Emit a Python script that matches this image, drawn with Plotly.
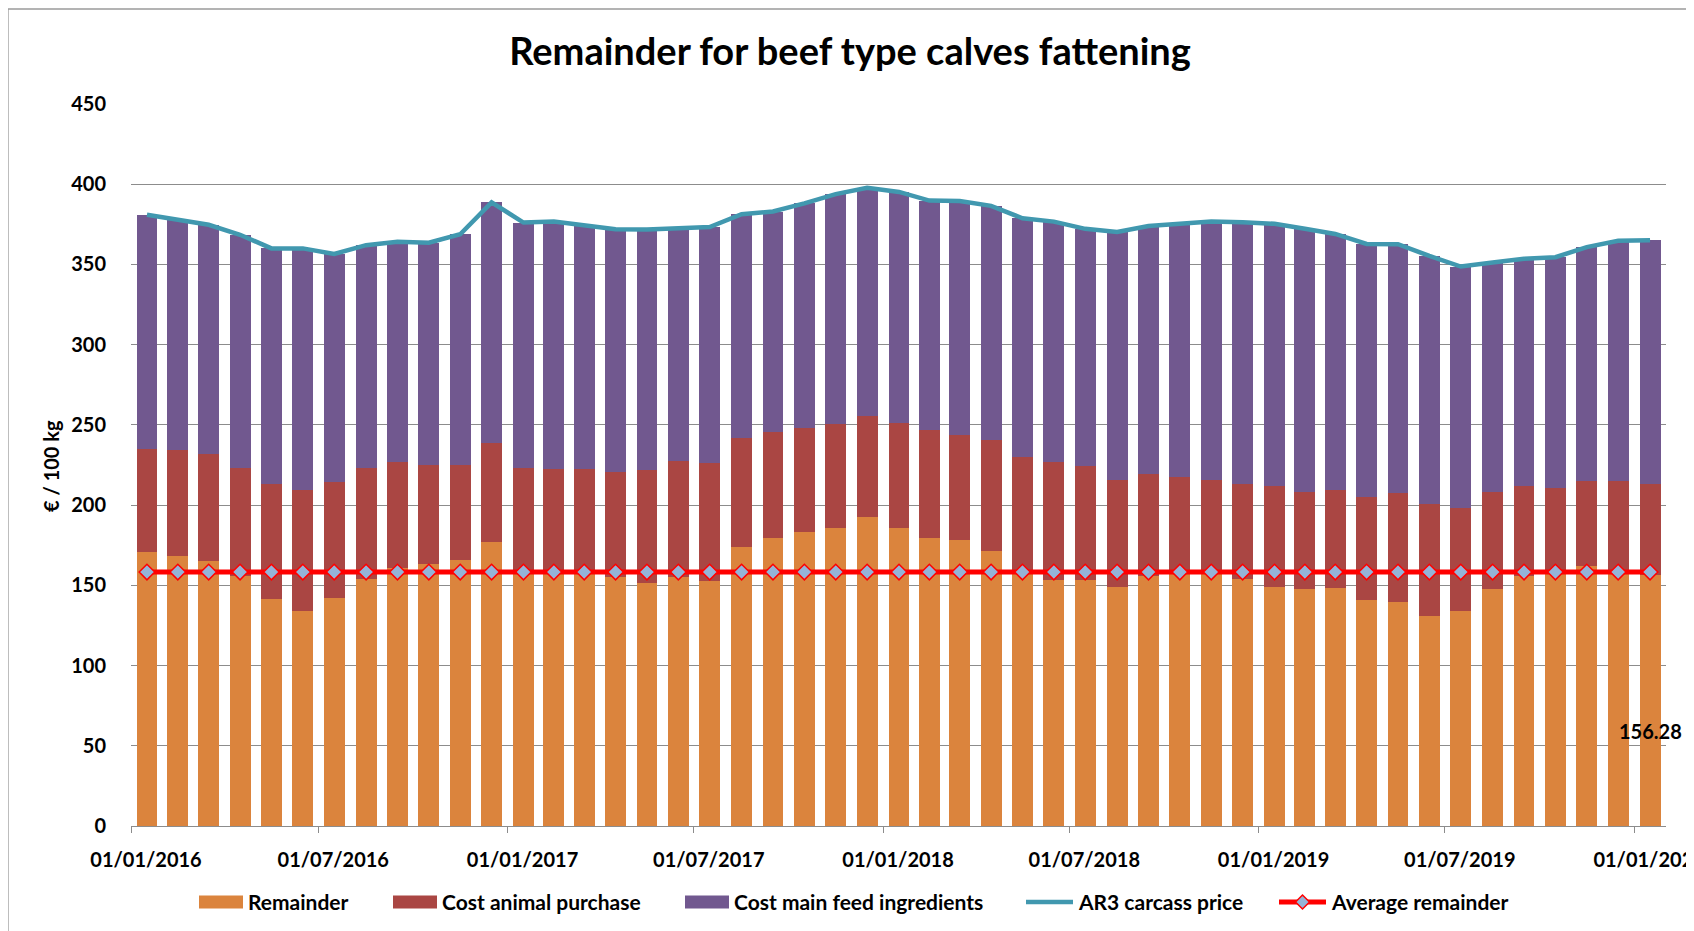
import pandas as pd
import plotly.graph_objects as go

# ---------------- data ----------------
months = [
    "2016-01", "2016-02", "2016-03", "2016-04", "2016-05", "2016-06", "2016-07", "2016-08", "2016-09", "2016-10",
    "2016-11", "2016-12", "2017-01", "2017-02", "2017-03", "2017-04", "2017-05", "2017-06", "2017-07", "2017-08",
    "2017-09", "2017-10", "2017-11", "2017-12", "2018-01", "2018-02", "2018-03", "2018-04", "2018-05", "2018-06",
    "2018-07", "2018-08", "2018-09", "2018-10", "2018-11", "2018-12", "2019-01", "2019-02", "2019-03", "2019-04",
    "2019-05", "2019-06", "2019-07", "2019-08", "2019-09", "2019-10", "2019-11", "2019-12", "2020-01",
]

remainder = [170.7, 168.2, 164.9, 155.8, 141.3, 133.9, 142.3, 153.9, 160.6, 163.3,
             165.7, 177.3, 158.5, 158.0, 158.0, 155.2, 151.4, 155.0, 152.5, 174.2,
             179.2, 183.3, 186.0, 192.7, 186.0, 179.2, 178.4, 171.7, 157.5, 153.1,
             153.1, 149.0, 155.8, 157.5, 157.5, 154.1, 148.8, 147.5, 148.2, 140.7,
             139.9, 130.7, 134.0, 147.5, 155.8, 157.5, 161.8, 158.5, 156.28]

cost_animal_purchase = [64.4, 66.1, 66.9, 67.5, 71.8, 75.5, 72.1, 69.4, 66.2, 61.7,
                        59.3, 61.3, 64.8, 64.5, 64.5, 65.6, 70.4, 72.4, 73.5, 67.5,
                        66.2, 64.6, 64.4, 62.7, 65.0, 67.5, 65.2, 68.6, 72.6, 73.7,
                        71.2, 66.8, 63.6, 60.0, 58.3, 59.0, 63.1, 60.7, 61.2, 64.4,
                        67.6, 70.0, 64.2, 60.7, 56.1, 53.1, 53.2, 56.5, 56.8]

cost_main_feed = [145.9, 143.7, 142.9, 145.2, 146.9, 150.6, 142.1, 138.7, 137.4, 138.5,
                  143.8, 150.1, 152.8, 154.2, 151.8, 151.2, 150.0, 145.2, 147.3, 139.6,
                  137.6, 140.2, 143.4, 142.4, 144.2, 143.1, 146.0, 146.2, 148.7, 149.9,
                  147.9, 154.5, 154.6, 157.8, 160.9, 163.2, 163.4, 164.0, 159.6, 157.7,
                  155.1, 154.6, 150.5, 143.0, 141.6, 143.9, 145.8, 149.7, 152.0]

ar3_carcass_price = [381.0, 378.0, 374.7, 368.5, 360.0, 360.0, 356.5, 362.0, 364.2, 363.5,
                     368.8, 388.7, 376.1, 376.7, 374.3, 372.0, 371.8, 372.6, 373.3, 381.3,
                     383.0, 388.1, 393.8, 397.8, 395.2, 389.8, 389.6, 386.5, 378.8, 376.7,
                     372.2, 370.3, 374.0, 375.3, 376.7, 376.3, 375.3, 372.2, 369.0, 362.8,
                     362.6, 355.3, 348.7, 351.2, 353.5, 354.5, 360.8, 364.7, 365.1]

average_remainder_value = 158.3
average_remainder = [average_remainder_value] * len(months)
last_label = "156.28"

# ---------------- geometry / style ----------------
OFF = 8                      # default page margin of the html body
W_FIG, H_FIG = 1694 - OFF, 931 - OFF
PL, PT, PW, PH = 131, 104, 1535, 722   # plot area in page pixels
ML, MT = PL - OFF, PT - OFF
MR = W_FIG - ML - PW
MB = H_FIG - MT - PH
FONT = "Lato"

starts = pd.to_datetime([m + "-01" for m in months])
nexts = starts + pd.offsets.MonthBegin(1)
mids = starts + (nexts - starts) / 2
bar_width_ms = 20.3 * 24 * 3600 * 1000

C_REM = "#DB843D"
C_PUR = "#AA4643"
C_FEED = "#71588F"
C_AR3 = "#4198AF"
C_AVG = "#FF0000"
C_DIAM = "#95B3D7"
C_GRID = "#8C8C8C"


def px(x):
    return (x - PL) / PW


def py(y):
    return (PT + PH - y) / PH


fig = go.Figure()
fig.add_bar(x=mids, y=remainder, name="Remainder", marker_color=C_REM,
            marker_line_width=0, width=bar_width_ms)
fig.add_bar(x=mids, y=cost_animal_purchase, name="Cost animal purchase", marker_color=C_PUR,
            marker_line_width=0, width=bar_width_ms)
fig.add_bar(x=mids, y=cost_main_feed, name="Cost main feed ingredients", marker_color=C_FEED,
            marker_line_width=0, width=bar_width_ms)
fig.add_scatter(x=mids, y=ar3_carcass_price, name="AR3 carcass price", mode="lines",
                line=dict(color=C_AR3, width=4.5))
fig.add_scatter(x=mids, y=average_remainder, name="Average remainder", mode="lines+markers",
                line=dict(color=C_AVG, width=5),
                marker=dict(symbol="diamond", size=12, color=C_DIAM,
                            line=dict(color=C_AVG, width=1.5)))

fig.update_layout(
    width=W_FIG, height=H_FIG,
    margin=dict(l=ML, r=MR, t=MT, b=MB, autoexpand=False),
    barmode="stack",
    showlegend=False,
    plot_bgcolor="white", paper_bgcolor="white",
    font=dict(family=FONT, color="black"),
    title=dict(text="Remainder for beef type calves fattening",
               x=(850 - OFF) / W_FIG, xanchor="center", xref="container",
               y=1 - (52 - OFF) / H_FIG, yanchor="middle", yref="container",
               font=dict(family=FONT, size=38, weight="bold", color="black")),
)

fig.update_xaxes(
    type="date", automargin=False,
    range=["2016-01-01", "2020-02-01"],
    tick0="2016-01-01", dtick="M6", tickformat="%d/%m/%Y",
    ticks="outside", ticklen=6, tickcolor=C_GRID, tickwidth=1,
    showline=True, linecolor=C_GRID, linewidth=1,
    showgrid=False, zeroline=False,
    ticklabelshift=15, ticklabelstandoff=10, ticklabeloverflow="allow",
    tickfont=dict(family=FONT, size=20, weight="bold", color="black"),
)
fig.update_yaxes(
    automargin=False,
    range=[0, 450], dtick=50, tick0=0,
    showgrid=True, gridcolor=C_GRID, gridwidth=1,
    zeroline=False, showline=False, ticks="",
    ticklabelstandoff=24,
    tickfont=dict(family=FONT, size=20, weight="bold", color="black"),
)

annotations = []
shapes = []

# y-axis title
annotations.append(dict(text="€ / 100 kg", x=px(51), y=py(466), xref="paper", yref="paper",
                        xanchor="center", yanchor="middle", textangle=-90, showarrow=False,
                        font=dict(family=FONT, size=20, weight="bold", color="black")))

# label on last remainder bar
annotations.append(dict(text=last_label, x=mids[-1], y=59, xref="x", yref="y",
                        xanchor="center", yanchor="middle", showarrow=False,
                        font=dict(family=FONT, size=20, weight="bold", color="black")))

# outer chart border
shapes.append(dict(type="rect", xref="paper", yref="paper",
                   x0=px(8), x1=px(1690), y0=py(945), y1=py(9),
                   line=dict(color="#9A9A9A", width=1.3), fillcolor="rgba(0,0,0,0)", layer="below"))

# manual legend
LEG_Y = 902
legend_items = [
    ("rect", C_REM, 199, 243, "Remainder"),
    ("rect", C_PUR, 393, 437, "Cost animal purchase"),
    ("rect", C_FEED, 685, 729, "Cost main feed ingredients"),
    ("line", C_AR3, 1026, 1073, "AR3 carcass price"),
    ("avg", C_AVG, 1279, 1326, "Average remainder"),
]
for kind, color, x0, x1, label in legend_items:
    if kind == "rect":
        shapes.append(dict(type="rect", xref="paper", yref="paper",
                           x0=px(x0), x1=px(x1), y0=py(LEG_Y + 6.5), y1=py(LEG_Y - 6.5),
                           line=dict(width=0), fillcolor=color))
    else:
        shapes.append(dict(type="line", xref="paper", yref="paper",
                           x0=px(x0), x1=px(x1), y0=py(LEG_Y), y1=py(LEG_Y),
                           line=dict(color=color, width=4.5 if kind == "line" else 5)))
        if kind == "avg":
            cx = (x0 + x1) / 2
            r = 7
            path = (f"M {px(cx - r)},{py(LEG_Y)} L {px(cx)},{py(LEG_Y - r)} "
                    f"L {px(cx + r)},{py(LEG_Y)} L {px(cx)},{py(LEG_Y + r)} Z")
            shapes.append(dict(type="path", xref="paper", yref="paper", path=path,
                               fillcolor=C_DIAM, line=dict(color=C_AVG, width=1.5)))
    annotations.append(dict(text=label, x=px(x1 + 3), y=py(LEG_Y), xref="paper", yref="paper",
                            xanchor="left", yanchor="middle", showarrow=False,
                            font=dict(family=FONT, size=21, weight="bold", color="black")))

fig.update_layout(annotations=annotations, shapes=shapes)

fig.write_html("out.html")
